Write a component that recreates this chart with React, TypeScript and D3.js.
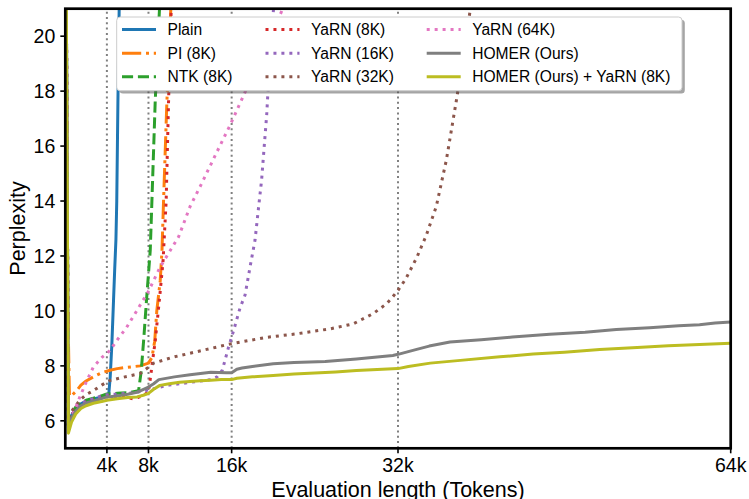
import React from "react";
import * as d3 from "d3";

// x values in thousands of tokens (k), y = perplexity
const X_TICKS = [4, 8, 16, 32, 64];
const X_TICK_LABELS = ["4k", "8k", "16k", "32k", "64k"];
const GRID_X = [4, 8, 16, 32];
const Y_TICKS = [6, 8, 10, 12, 14, 16, 18, 20];

const PLAIN: [number, number][] = [
  [0.05, 25], [0.3, 5.85], [0.6, 6.2], [1, 6.45], [1.5, 6.62], [2, 6.72], [3, 6.82], [4, 6.9],
  [4.17, 6.93], [4.32, 7.6], [4.48, 8.8], [4.64, 10.4], [4.75, 11.5], [4.87, 12.6], [4.95, 14],
  [5.06, 17.6], [5.2, 21.5],
];
const PI_8K: [number, number][] = [
  [0.05, 25], [0.2, 11], [0.4, 6.9], [0.7, 6.95], [1.1, 7.1], [1.5, 7.3], [2, 7.45], [2.7, 7.6],
  [3.5, 7.75], [4.3, 7.84], [5, 7.9], [6, 7.95], [7.2, 8.0], [8, 8.1], [8.33, 8.3], [8.6, 8.9],
  [8.8, 10.0], [9.13, 11.1], [9.3, 12.2], [9.45, 14], [9.77, 17.6], [10.15, 21], [10.2, 21.5],
];
const NTK_8K: [number, number][] = [
  [0.05, 25], [0.3, 5.85], [0.6, 6.25], [1, 6.5], [1.5, 6.65], [2, 6.75], [3, 6.85], [4, 6.98],
  [5, 7.0], [6, 7.02], [7.05, 7.1], [7.3, 7.8], [7.55, 9.0], [7.85, 10.6], [8.17, 12.2],
  [8.33, 14], [8.65, 17.65], [9.06, 21], [9.1, 21.5],
];
const YARN_8K: [number, number][] = [
  [0.05, 25], [0.3, 5.8], [0.6, 6.2], [1, 6.45], [1.5, 6.6], [2, 6.7], [3, 6.82], [4, 6.92],
  [5, 6.88], [6, 6.85], [6.5, 6.8], [7, 6.85], [7.6, 6.95], [8, 7.05], [8.2, 7.6], [8.4, 8.2],
  [8.65, 8.9], [9.1, 10.6], [9.4, 11.8], [9.7, 14], [9.93, 17.6], [10.2, 21.2], [10.25, 21.5],
];
const YARN_16K: [number, number][] = [
  [0.05, 25], [0.3, 5.8], [0.6, 6.2], [1, 6.45], [1.5, 6.62], [2, 6.72], [3, 6.85], [4, 6.95],
  [5, 6.97], [6, 7.0], [7, 7.05], [8, 7.12], [9, 7.22], [10, 7.3], [12, 7.4], [14, 7.5],
  [14.6, 7.6], [15.1, 7.84], [15.7, 8.68], [16.2, 9.3], [16.8, 10.1], [17.29, 10.58],
  [17.77, 11.6], [18.25, 12.58], [18.56, 13.67], [18.88, 14.76], [19.13, 15.98], [19.37, 17.13],
  [19.5, 18.04], [20.0, 20.85], [20.2, 22],
];
const YARN_32K: [number, number][] = [
  [0.05, 25], [0.3, 6.0], [0.7, 6.4], [1.4, 6.75], [2, 6.95], [2.7, 7.1], [3.5, 7.3], [4.3, 7.47],
  [5.5, 7.58], [7.2, 7.72], [8, 7.95], [8.5, 8.1], [10.4, 8.32], [13.6, 8.6], [15.9, 8.8],
  [19.2, 9.03], [22.3, 9.17], [25.5, 9.35], [27.7, 9.53], [29.6, 9.9], [30.9, 10.26],
  [31.4, 10.47], [32, 10.75], [32.74, 11.16], [33.8, 11.94], [34.7, 12.73], [35.68, 13.8],
  [36.65, 15.49], [37.3, 16.95], [37.64, 17.72], [38.3, 19.3], [38.92, 20.89], [39.3, 22],
];
const YARN_64K: [number, number][] = [
  [0.05, 25], [0.3, 5.8], [0.7, 6.2], [1.4, 6.87], [2, 7.4], [2.7, 7.96], [3.5, 8.3], [4.3, 8.56],
  [5.1, 9.0], [5.9, 9.4], [6.7, 9.9], [7.5, 10.4], [7.85, 10.6], [9.13, 11.6], [10.9, 12.7],
  [12, 13.8], [13, 14.55], [14.6, 15.8], [15.9, 16.8], [17.1, 17.8], [20.8, 20.9], [21.2, 21.3],
];
const HOMER: [number, number][] = [
  [0.05, 25], [0.3, 5.75], [0.6, 6.1], [1, 6.35], [1.5, 6.55], [2, 6.65], [3, 6.75], [4, 6.87],
  [5, 6.9], [6, 6.97], [7, 7.05], [8, 7.23], [8.5, 7.35], [9, 7.5], [10.5, 7.6], [12, 7.68],
  [14, 7.77], [15.5, 7.75], [16, 7.75], [16.5, 7.88], [17, 7.92], [18, 7.98], [20, 8.08],
  [22, 8.12], [25, 8.16], [28, 8.25], [30, 8.32], [31.5, 8.38], [32, 8.42], [33.8, 8.6],
  [35, 8.72], [37, 8.87], [40, 8.95], [43, 9.05], [46.6, 9.15], [50, 9.22], [53, 9.32],
  [56.2, 9.39], [59, 9.46], [61, 9.5], [62.5, 9.56], [64, 9.6],
];
const HOMER_YARN: [number, number][] = [
  [0.05, 25], [0.3, 5.55], [0.6, 5.95], [1, 6.25], [1.5, 6.45], [2, 6.55], [2.7, 6.64], [3.5, 6.7],
  [4, 6.75], [5, 6.8], [6, 6.85], [6.9, 6.87], [7.5, 6.93], [8, 7.0], [8.5, 7.15], [9.1, 7.29],
  [10, 7.35], [11, 7.4], [12, 7.43], [13, 7.46], [14, 7.48], [15, 7.5], [16, 7.5], [16.5, 7.55],
  [18, 7.6], [20, 7.65], [22, 7.7], [24, 7.74], [26, 7.78], [28, 7.83], [30, 7.87], [32, 7.9],
  [33, 7.98], [35.1, 8.1], [38, 8.2], [41.8, 8.33], [45, 8.43], [48, 8.5], [51.4, 8.6],
  [55, 8.67], [58, 8.73], [61, 8.78], [64, 8.82],
];

const SERIES_NAMES = [
  "Plain", "PI (8K)", "NTK (8K)", "YaRN (8K)", "YaRN (16K)", "YaRN (32K)", "YaRN (64K)",
  "HOMER (Ours)", "HOMER (Ours) + YaRN (8K)",
];
const SERIES_DATA = [PLAIN, PI_8K, NTK_8K, YARN_8K, YARN_16K, YARN_32K, YARN_64K, HOMER, HOMER_YARN];
const COLORS = ["#1f77b4", "#ff7f0e", "#2ca02c", "#d62728", "#9467bd", "#8c564b", "#e377c2", "#7f7f7f", "#bcbd22"];
const LW = 3;
const DASH_SOLID = "none";
const DASH_DOT = `${1 * LW},${1.65 * LW}`;
const DASH_DASH = `${3.7 * LW},${1.6 * LW}`;
const DASH_DASHDOT = `${6.4 * LW},${1.6 * LW},${1 * LW},${1.6 * LW}`;
const DASHES = [DASH_SOLID, DASH_DASHDOT, DASH_DASH, DASH_DOT, DASH_DOT, DASH_DOT, DASH_DOT, DASH_SOLID, DASH_SOLID];

const W = 749;
const H = 499;
const L = 65.3, R = 730.7, T = 8.7, B = 448.3;
const FONT = "'Liberation Sans', Arial, Helvetica, sans-serif";

export default function App() {
  const x = d3.scaleLinear().domain([0, 64]).range([L, R]);
  const y = d3.scaleLinear().domain([5, 21]).range([B, T]);
  const line = d3.line<[number, number]>().x((d) => x(d[0])).y((d) => y(d[1]));

  const legendX = 116.7, legendY = 17, legendW = 565.3, legendH = 73.7;
  const colHandleX = [122, 265.5, 426.7];
  const rowY = [29.5, 53.2, 76.8];
  const handleLen = 34;
  const textOff = 45.5;
  const legFs = 15.6;

  return (
    <svg width={W} height={H} style={{ position: "fixed", left: 0, top: 0, background: "#fff" }} fontFamily={FONT}>
      <defs>
        <clipPath id="plotclip">
          <rect x={L} y={T} width={R - L} height={B - T} />
        </clipPath>
      </defs>
      <rect x={0} y={0} width={W} height={H} fill="#fff" />
      {/* grid lines */}
      {GRID_X.map((g) => (
        <line key={g} x1={x(g)} x2={x(g)} y1={B} y2={T} stroke="#808080" strokeWidth={2} strokeDasharray="2,3.3" />
      ))}
      {/* series */}
      <g clipPath="url(#plotclip)">
        {SERIES_DATA.map((d, i) => (
          <path key={i} d={line(d) || ""} fill="none" stroke={COLORS[i]} strokeWidth={LW}
            strokeDasharray={DASHES[i]} strokeLinecap="butt" strokeLinejoin="round" />
        ))}
      </g>
      {/* spines */}
      <rect x={L} y={T} width={R - L} height={B - T} fill="none" stroke="#000" strokeWidth={2.7} />
      {/* y ticks */}
      {Y_TICKS.map((t) => (
        <g key={t}>
          <line x1={L - 5} x2={L} y1={y(t)} y2={y(t)} stroke="#000" strokeWidth={1.6} />
          <text x={L - 10} y={y(t) + 7} textAnchor="end" fontSize={19.5} fill="#000">{t}</text>
        </g>
      ))}
      {/* x ticks */}
      {X_TICKS.map((t, i) => (
        <g key={t}>
          <line x1={x(t)} x2={x(t)} y1={B} y2={B + 5} stroke="#000" strokeWidth={1.6} />
          <text x={x(t)} y={472} textAnchor="middle" fontSize={19.5} fill="#000">{X_TICK_LABELS[i]}</text>
        </g>
      ))}
      {/* axis labels */}
      <text x={(L + R) / 2} y={497} textAnchor="middle" fontSize={21.5} fill="#000">Evaluation length (Tokens)</text>
      <text transform={`translate(25, ${(T + B) / 2}) rotate(-90)`} textAnchor="middle" fontSize={21.5} fill="#000">Perplexity</text>
      {/* legend */}
      <rect x={legendX + 2.8} y={legendY + 2.8} width={legendW} height={legendH} rx={3.5} fill="#4c4c4c" fillOpacity={0.5} />
      <rect x={legendX} y={legendY} width={legendW} height={legendH} rx={3.5} fill="#fff" stroke="#cccccc" strokeWidth={1} />
      {SERIES_NAMES.map((name, i) => {
        const col = Math.floor(i / 3);
        const row = i % 3;
        const hx = colHandleX[col];
        const hy = rowY[row];
        return (
          <g key={name}>
            <line x1={hx} x2={hx + handleLen} y1={hy} y2={hy} stroke={COLORS[i]} strokeWidth={LW}
              strokeDasharray={DASHES[i]} strokeLinecap="butt" />
            <text x={hx + textOff} y={hy + 5.6} fontSize={legFs} fill="#000">{name}</text>
          </g>
        );
      })}
    </svg>
  );
}
